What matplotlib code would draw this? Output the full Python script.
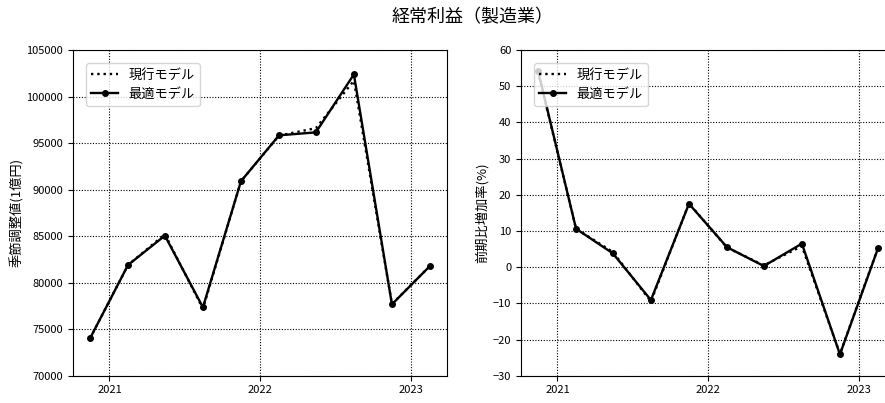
import numpy as np
import pandas as pd
import matplotlib
matplotlib.use('Agg')
import matplotlib.pyplot as plt
import matplotlib.dates as mdates

plt.rcParams['font.family'] = ['Noto Sans CJK JP', 'DejaVu Sans']

# Quarterly points (mid-quarter)
dates = pd.to_datetime(['2020-11-15', '2021-02-15', '2021-05-15', '2021-08-15', '2021-11-15',
                        '2022-02-15', '2022-05-15', '2022-08-15', '2022-11-15', '2023-02-15'])

# Seasonally adjusted values (100 million yen)
level_current = [74000, 81900, 85200, 77200, 90900, 95800, 96600, 101700, 77700, 81800]
level_best = [74000, 81900, 85050, 77350, 90900, 95830, 96150, 102380, 77670, 81790]

# Growth rate vs previous quarter (%)
growth_current = [54.0, 10.6, 4.2, -9.5, 17.6, 5.4, 0.5, 5.8, -24.0, 5.3]
growth_best = [54.3, 10.6, 3.8, -9.1, 17.5, 5.5, 0.3, 6.5, -24.1, 5.2]

title = '経常利益（製造業）'
ylabels = ['季節調整値(1億円)', '前期比増加率(%)']
legend_labels = ['現行モデル', '最適モデル']

fig = plt.figure(figsize=(8.85, 4.03), dpi=100)
ax1 = fig.add_axes([73 / 885, 1 - 375.7 / 403, 374 / 885, 325.7 / 403])
ax2 = fig.add_axes([521 / 885, 1 - 375.7 / 403, 374 / 885, 325.7 / 403])

panels = [
    (ax1, level_current, level_best, (70000, 105000), np.arange(70000, 105001, 5000)),
    (ax2, growth_current, growth_best, (-30, 60), np.arange(-30, 61, 10)),
]

for ax, cur, best, ylim, yticks in panels:
    ax.plot(dates, cur, color='black', linestyle=':', linewidth=1.7, label=legend_labels[0])
    ax.plot(dates, best, color='black', linestyle='-', linewidth=1.7, marker='o', markersize=4,
            label=legend_labels[1])
    ax.set_ylim(*ylim)
    ax.set_yticks(yticks)
    ax.xaxis.set_major_locator(mdates.YearLocator())
    ax.xaxis.set_major_formatter(mdates.DateFormatter('%Y'))
    ax.grid(True, color='black', linestyle=(0, (1, 1.5)), linewidth=0.8)
    ax.tick_params(labelsize=8)
    ax.legend(loc='upper left', fontsize=9.5, borderaxespad=1.0)

ax1.set_ylabel(ylabels[0], fontsize=9.5)
ax2.set_ylabel(ylabels[1], fontsize=9.5)
ax1.yaxis.set_label_coords(-0.131, 0.5)
ax2.yaxis.set_label_coords(-0.087, 0.5)

fig.suptitle(title, fontsize=13, x=473 / 885, y=1 - 17 / 403, va='center')

fig.savefig('out.png', dpi=100)
